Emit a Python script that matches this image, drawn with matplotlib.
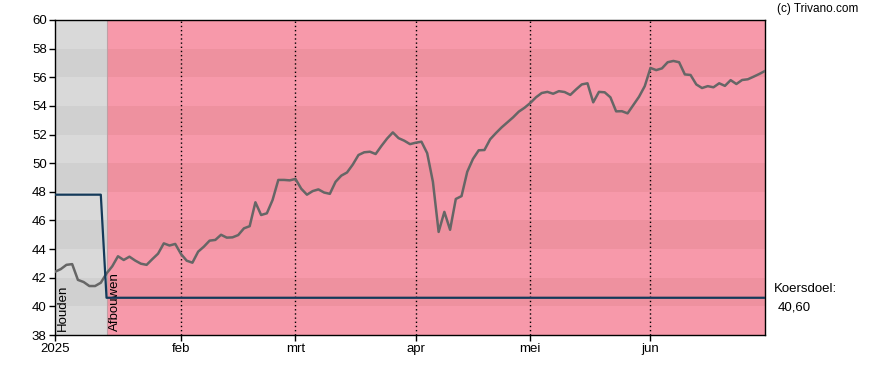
import matplotlib
matplotlib.use('Agg')
import matplotlib.pyplot as plt
import numpy as np

plt.rcParams['font.family'] = ['Liberation Sans', 'DejaVu Sans']

# Koers per handelsdag (2 jan t/m 30 jun 2025)
price = [42.42, 42.6, 42.9, 42.95, 41.85, 41.7, 41.42, 41.42, 41.65, 42.3,
         42.8, 43.5, 43.24, 43.47, 43.2, 42.98, 42.9, 43.3, 43.68, 44.4,
         44.25, 44.36, 43.66, 43.19, 43.05, 43.82, 44.17, 44.59, 44.64, 45.0,
         44.8, 44.82, 44.98, 45.45, 45.6, 47.27, 46.38, 46.5, 47.43, 48.83,
         48.83, 48.8, 48.9, 48.22, 47.8, 48.05, 48.17, 47.95, 47.86, 48.7,
         49.13, 49.35, 49.9, 50.57, 50.76, 50.8, 50.64, 51.2, 51.72, 52.15,
         51.75, 51.57, 51.33, 51.43, 51.5, 50.7, 48.7, 45.2, 46.6, 45.35,
         47.5, 47.7, 49.4, 50.3, 50.9, 50.92, 51.67, 52.1, 52.5, 52.85,
         53.2, 53.6, 53.87, 54.2, 54.6, 54.9, 54.98, 54.85, 55.03, 54.97,
         54.77, 55.15, 55.5, 55.58, 54.25, 54.98, 54.95, 54.6, 53.62, 53.63,
         53.48, 54.06, 54.64, 55.38, 56.65, 56.5, 56.62, 57.05, 57.14, 57.05,
         56.2, 56.16, 55.5, 55.25, 55.38, 55.3, 55.58, 55.4, 55.8, 55.53,
         55.81, 55.86, 56.04, 56.23, 56.44]
target_old = 47.8
target_new = 40.6
switch_idx = 9  # advies wijzigt van Houden naar Afbouwen

month_ticks = [0, 22, 42, 63, 83, 104]
month_labels = ['2025', 'feb', 'mrt', 'apr', 'mei', 'jun']

x = np.arange(len(price))
target = np.where(x < switch_idx, target_old, target_new)
xmax = len(price) - 1

fig = plt.figure(figsize=(8.88, 3.7), dpi=100)
ax = fig.add_axes([55 / 888, 35 / 370, 710 / 888, 315 / 370])
ax.set_xlim(0, xmax)
ax.set_ylim(38, 60)

# achtergrond: grijs (Houden) en roze (Afbouwen) met banden
split = switch_idx / xmax
for lo in range(38, 60, 2):
    dark = (lo - 40) % 4 == 0
    ax.axhspan(lo, lo + 2, xmin=0, xmax=split, color='#d0d0d0' if dark else '#d9d9d9', lw=0, zorder=0)
    ax.axhspan(lo, lo + 2, xmin=split, xmax=1, color='#ee919f' if dark else '#f799aa', lw=0, zorder=0)
ax.axvline(switch_idx, color='#c0a0a5', lw=0.8, zorder=0.5)

for t in month_ticks[1:]:
    ax.axvline(t, color='black', lw=1, linestyle=(0, (1, 2)), zorder=1)

ax.plot(x, price, color='#666666', lw=1.8, zorder=3)
ax.plot(x, target, color='#143a5a', lw=1.6, zorder=4)

ax.text(1.3, 38.3, 'Houden', rotation=90, fontsize=9.5, ha='center', va='bottom')
ax.text(switch_idx + 1.4, 38.3, 'Afbouwen', rotation=90, fontsize=9.5, ha='center', va='bottom')

ax.set_yticks(range(38, 61, 2))
ax.set_xticks(month_ticks)
ax.set_xticklabels(month_labels)
ax.tick_params(labelsize=9.5, length=4, width=1, pad=2)
for s in ax.spines.values():
    s.set_color('black')
    s.set_linewidth(1)

fig.text(858 / 888, 1 - 9 / 370, '(c) Trivano.com', fontsize=8.5, ha='right', va='center')
fig.text(774 / 888, 1 - 289 / 370, 'Koersdoel:', fontsize=9.5, ha='left', va='center')
fig.text(778 / 888, 1 - 307 / 370, '40,60', fontsize=9.5, ha='left', va='center')

fig.savefig('out.png', dpi=100)
